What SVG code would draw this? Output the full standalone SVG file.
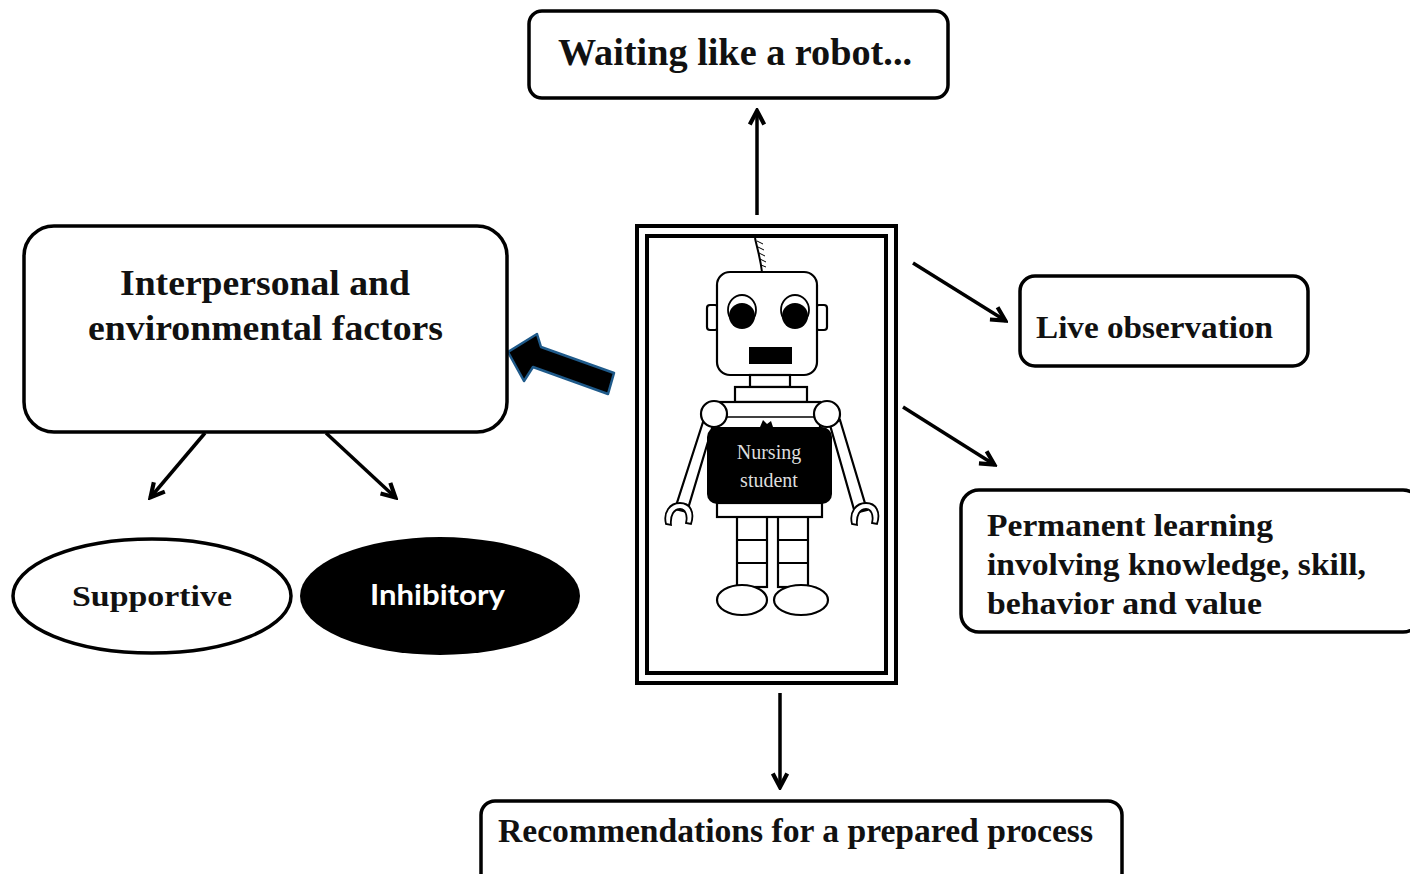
<svg xmlns="http://www.w3.org/2000/svg" width="1410" height="874" viewBox="0 0 1410 874">
<style>
.box{fill:#fff;stroke:#000;stroke-width:3.5}
.t{font-family:"Liberation Serif","Times New Roman",serif;font-weight:bold;fill:#111}
.conn{stroke:#000;stroke-width:3.5;fill:none;marker-end:url(#ah)}
.rb{fill:#fff;stroke:#000;stroke-width:2.2}
</style>
<defs>
<marker id="ah" viewBox="0 0 12 12" refX="10.5" refY="6" markerWidth="5.5" markerHeight="5.5" orient="auto" markerUnits="strokeWidth">
<path d="M1.5,1.5 L10,6 L1.5,10.5" fill="none" stroke="#000" stroke-width="2.6" stroke-linejoin="miter"/>
</marker>
</defs>
<rect width="1410" height="874" fill="#fff"/>

<g id="connectors">
<line class="conn" x1="757" y1="215" x2="757" y2="110"/>
<line class="conn" x1="913" y1="263" x2="1006" y2="321"/>
<line class="conn" x1="903" y1="407" x2="995" y2="465"/>
<line class="conn" x1="780" y1="693" x2="780" y2="788"/>
<line class="conn" x1="205" y1="433" x2="150" y2="498"/>
<line class="conn" x1="326" y1="433" x2="396" y2="498"/>
<polygon points="508,352 537,334 541,347 614,373 608,394 533,367 524,381" fill="#000" stroke="#1f5a8a" stroke-width="2.5" stroke-linejoin="round"/>
</g>

<g id="waiting">
<rect class="box" x="529" y="11" width="419" height="87" rx="13"/>
<text class="t" x="558" y="65" font-size="37" textLength="354" lengthAdjust="spacingAndGlyphs">Waiting like a robot...</text>
</g>

<g id="factors">
<rect class="box" x="24" y="226" width="483" height="206" rx="30"/>
<text class="t" x="120" y="295" font-size="35" textLength="290" lengthAdjust="spacingAndGlyphs">Interpersonal and</text>
<text class="t" x="88" y="340" font-size="35" textLength="355" lengthAdjust="spacingAndGlyphs">environmental factors</text>
</g>

<g id="supportive">
<ellipse cx="152" cy="596" rx="139" ry="57" fill="#fff" stroke="#000" stroke-width="3.5"/>
<text class="t" x="72" y="606" font-size="30" textLength="160" lengthAdjust="spacingAndGlyphs">Supportive</text>
</g>

<g id="inhibitory">
<ellipse cx="440" cy="596" rx="140" ry="59" fill="#000"/>
<text x="370" y="605" font-family="Lato,'Liberation Sans',sans-serif" font-weight="bold" font-size="29" fill="#fff" textLength="135" lengthAdjust="spacingAndGlyphs">Inhibitory</text>
</g>

<g id="live">
<rect class="box" x="1020" y="276" width="288" height="90" rx="15"/>
<text class="t" x="1036" y="338" font-size="31" textLength="237" lengthAdjust="spacingAndGlyphs">Live observation</text>
</g>

<g id="permanent">
<rect class="box" x="961" y="490" width="460" height="142" rx="18"/>
<text class="t" x="987" y="536" font-size="31" textLength="286" lengthAdjust="spacingAndGlyphs">Permanent learning</text>
<text class="t" x="987" y="575" font-size="31" textLength="379" lengthAdjust="spacingAndGlyphs">involving knowledge, skill,</text>
<text class="t" x="987" y="614" font-size="31" textLength="275" lengthAdjust="spacingAndGlyphs">behavior and value</text>
</g>

<g id="recommendations">
<rect class="box" x="481" y="801" width="641" height="90" rx="14"/>
<text class="t" x="498" y="842" font-size="33" textLength="595" lengthAdjust="spacingAndGlyphs">Recommendations for a prepared process</text>
</g>

<g id="robot">
<rect x="637" y="226" width="259" height="457" fill="#fff" stroke="#000" stroke-width="4"/>
<rect x="647" y="236" width="239" height="437" fill="none" stroke="#000" stroke-width="4"/>
<path d="M755,238 C757,248 760,256 762,272" fill="none" stroke="#000" stroke-width="2"/>
<path d="M757,241 L763,244 M758,247 L764,250 M759,253 L765,256 M760,259 L766,262 M761,265 L766,267" stroke="#000" stroke-width="1"/>
<rect class="rb" x="707" y="305" width="11" height="25" rx="3"/>
<rect class="rb" x="816" y="305" width="11" height="25" rx="3"/>
<rect class="rb" x="717" y="272" width="100" height="103" rx="13"/>
<ellipse cx="742" cy="310" rx="14" ry="15" fill="#fff" stroke="#000" stroke-width="1.8"/>
<circle cx="742" cy="316" r="13" fill="#000"/>
<ellipse cx="795" cy="310" rx="14" ry="15" fill="#fff" stroke="#000" stroke-width="1.8"/>
<circle cx="795" cy="316" r="13" fill="#000"/>
<rect x="749" y="347" width="43" height="17" fill="#000"/>
<rect class="rb" x="750" y="375" width="40" height="12"/>
<rect class="rb" x="735" y="387" width="72" height="15"/>
<polygon class="rb" points="703,422 713,425 687,512 675,509"/>
<polygon class="rb" points="830,425 840,420 867,510 855,513"/>
<path d="M666,524 C663,512 670,503 680,503 C690,503 695,512 691,524 L686,523 C688,515 685,509 680,509 C674,509 670,515 671,525 Z" fill="#fff" stroke="#000" stroke-width="1.8"/>
<path d="M852,524 C849,512 856,503 866,503 C876,503 881,512 877,524 L872,523 C874,515 871,509 866,509 C860,509 856,515 857,525 Z" fill="#fff" stroke="#000" stroke-width="1.8"/>
<rect class="rb" x="713" y="402" width="107" height="27"/>
<line x1="715" y1="417" x2="818" y2="417" stroke="#000" stroke-width="1.5"/>
<circle class="rb" cx="714" cy="414" r="13"/>
<circle class="rb" cx="827" cy="414" r="13"/>
<rect class="rb" x="737" y="515" width="30" height="72"/>
<line x1="737" y1="540" x2="767" y2="540" stroke="#000" stroke-width="2"/>
<line x1="737" y1="563" x2="767" y2="563" stroke="#000" stroke-width="2"/>
<rect class="rb" x="778" y="515" width="30" height="72"/>
<line x1="778" y1="540" x2="808" y2="540" stroke="#000" stroke-width="2"/>
<line x1="778" y1="563" x2="808" y2="563" stroke="#000" stroke-width="2"/>
<rect class="rb" x="717" y="503" width="105" height="14"/>
<rect x="707" y="427" width="125" height="77" rx="10" fill="#000"/>
<path d="M760,427 L763,420 L767,424 L771,421 L773,427 Z" fill="#000"/>
<text x="769" y="459" text-anchor="middle" font-family="'Liberation Serif',serif" font-size="20" fill="#ddd">Nursing</text>
<text x="769" y="487" text-anchor="middle" font-family="'Liberation Serif',serif" font-size="20" fill="#ddd">student</text>
<ellipse class="rb" cx="742" cy="600" rx="25" ry="15"/>
<ellipse class="rb" cx="801" cy="600" rx="27" ry="15"/>
</g>
</svg>
